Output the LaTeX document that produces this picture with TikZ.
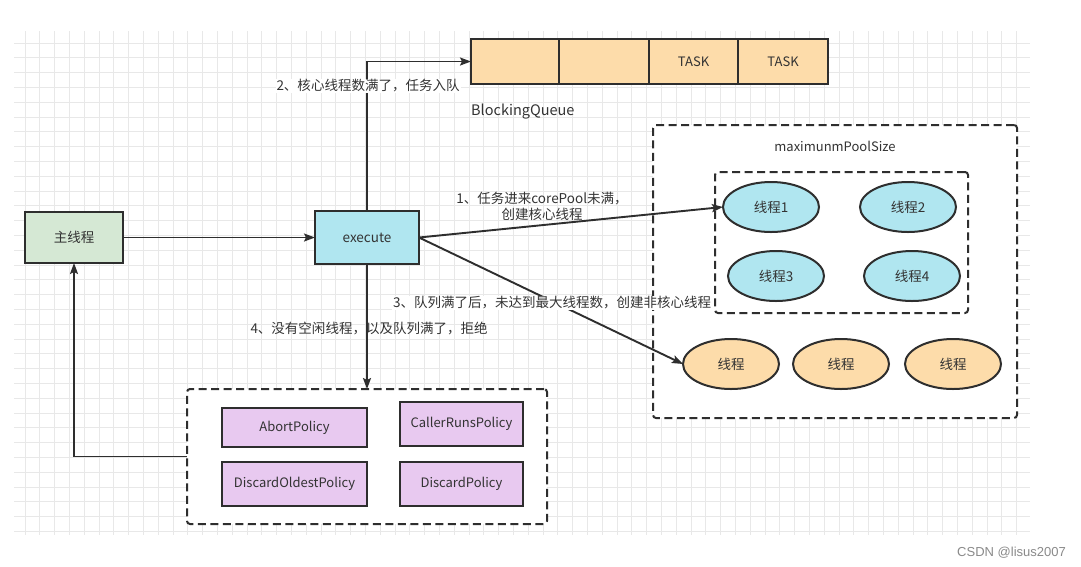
\documentclass[tikz,border=0pt]{standalone}
\usepackage{fontspec}
\setmainfont{Noto Sans CJK SC}
\newfontfamily\wmfont{Liberation Sans}
\usetikzlibrary{arrows.meta,shapes.geometric}
\definecolor{ln}{HTML}{2E2E2E}
\definecolor{txt}{HTML}{333333}
\definecolor{gfill}{HTML}{D5E8D4}
\definecolor{cfill}{HTML}{B0E6F0}
\definecolor{ofill}{HTML}{FDDCAA}
\definecolor{pfill}{HTML}{E8C9F0}
\definecolor{gridc}{HTML}{E8E8E8}
\definecolor{wm}{HTML}{8A8A8A}
\begin{document}
\begin{tikzpicture}[x=1pt,y=-1pt,
  box/.style={draw=ln,line width=2pt,inner sep=0pt,outer sep=0pt,text=txt,font=\fontsize{13.5}{16}\selectfont},
  ell/.style={box,ellipse,minimum width=96pt,minimum height=50pt},
  dbox/.style={draw=ln,fill=white,line width=2pt,dash pattern=on 8pt off 4.5pt,rounded corners=3pt,inner sep=0pt,outer sep=0pt},
  lbl/.style={text=txt,inner sep=1pt,font=\fontsize{13.5}{15.5}\selectfont},
  arr/.style={draw=ln,line width=1.9pt,-{Stealth[length=11pt,width=8pt,inset=2pt]}}]
\useasboundingbox (0,0) rectangle (1081,566);
\fill[white] (0,0) rectangle (1081,566);
% grid
\begin{scope}
\clip (14,31) rectangle (1030,535);
\foreach \i in {0,...,68} {\draw[gridc,line width=0.9pt] ({25+14.8*\i},31) -- ({25+14.8*\i},535);}
\foreach \j in {0,...,33} {\draw[gridc,line width=0.9pt] (14,{43+14.8*\j}) -- (1030,{43+14.8*\j});}
\end{scope}

% containers
\node[dbox,minimum width=364pt,minimum height=293pt] (pool) at (835,271.5) {};
\node[dbox,minimum width=253pt,minimum height=141pt] (core) at (841.5,242.5) {};
\node[dbox,minimum width=360pt,minimum height=135pt] (pol) at (367,456.5) {};

% main nodes
\node[box,fill=gfill,minimum width=98pt,minimum height=51pt] (main) at (74,237.5) {主线程};
\node[box,fill=cfill,minimum width=104pt,minimum height=53pt] (exec) at (367,237.5) {execute};

% queue
\node[box,fill=ofill,minimum width=88pt,minimum height=45pt,font=\fontsize{13}{15}\selectfont] (q1) at (515,61.5) {};
\node[box,fill=ofill,minimum width=90pt,minimum height=45pt,font=\fontsize{13}{15}\selectfont] (q2) at (604,61.5) {};
\node[box,fill=ofill,minimum width=89pt,minimum height=45pt,font=\fontsize{13}{15}\selectfont] (q3) at (693.5,61.5) {TASK};
\node[box,fill=ofill,minimum width=90pt,minimum height=45pt,font=\fontsize{13}{15}\selectfont] (q4) at (783,61.5) {TASK};
\node[lbl,anchor=west,font=\fontsize{14.5}{17}\selectfont] (bq) at (470,112) {BlockingQueue};

% pool
\node[lbl,font=\fontsize{13}{15}\selectfont] (mps) at (835,146) {maximunmPoolSize};
\node[ell,fill=cfill] (e1) at (771,207) {线程1};
\node[ell,fill=cfill] (e2) at (908,207) {线程2};
\node[ell,fill=cfill] (e3) at (776,276) {线程3};
\node[ell,fill=cfill] (e4) at (912,276) {线程4};
\node[ell,fill=ofill] (o1) at (731,364) {线程};
\node[ell,fill=ofill] (o2) at (841,364) {线程};
\node[ell,fill=ofill] (o3) at (953,364) {线程};

% policies
\node[box,fill=pfill,minimum width=145pt,minimum height=39pt,font=\fontsize{13}{15}\selectfont] (abort) at (294.5,427.5) {AbortPolicy};
\node[box,fill=pfill,minimum width=123pt,minimum height=44pt,font=\fontsize{13}{15}\selectfont] (caller) at (461.5,424) {CallerRunsPolicy};
\node[box,fill=pfill,minimum width=145pt,minimum height=44pt,font=\fontsize{13}{15}\selectfont] (oldest) at (294.5,484) {DiscardOldestPolicy};
\node[box,fill=pfill,minimum width=123pt,minimum height=44pt,font=\fontsize{13}{15}\selectfont] (discard) at (461.5,484) {DiscardPolicy};

% labels behind arrows
\node[lbl,align=center] (l1) at (542,206.5) {1、任务进来corePool未满，\\创建核心线程};

% connectors
\draw[arr] (main.east) -- (exec.west);
\draw[arr] (exec.north) |- (q1.west);
\draw[arr] (exec.east) -- (e1.west);
\draw[arr] (exec.east) -- (o1.west);
\draw[arr] (exec.south) -- (pol.north);
\draw[arr] (pol.west) -| (main.south);

% labels
\node[lbl,fill=white] (l2) at (368,86) {2、核心线程数满了，任务入队};
\node[lbl,fill=white] (l3) at (552,303) {3、队列满了后，未达到最大线程数，创建非核心线程};
\node[lbl] (l4) at (369,328) {4、没有空闲线程，以及队列满了，拒绝};

\node[anchor=east,text=wm,inner sep=0pt,font=\wmfont\fontsize{13}{15}\selectfont] (wmk) at (1066,553) {CSDN @lisus2007};
\end{tikzpicture}
\end{document}
